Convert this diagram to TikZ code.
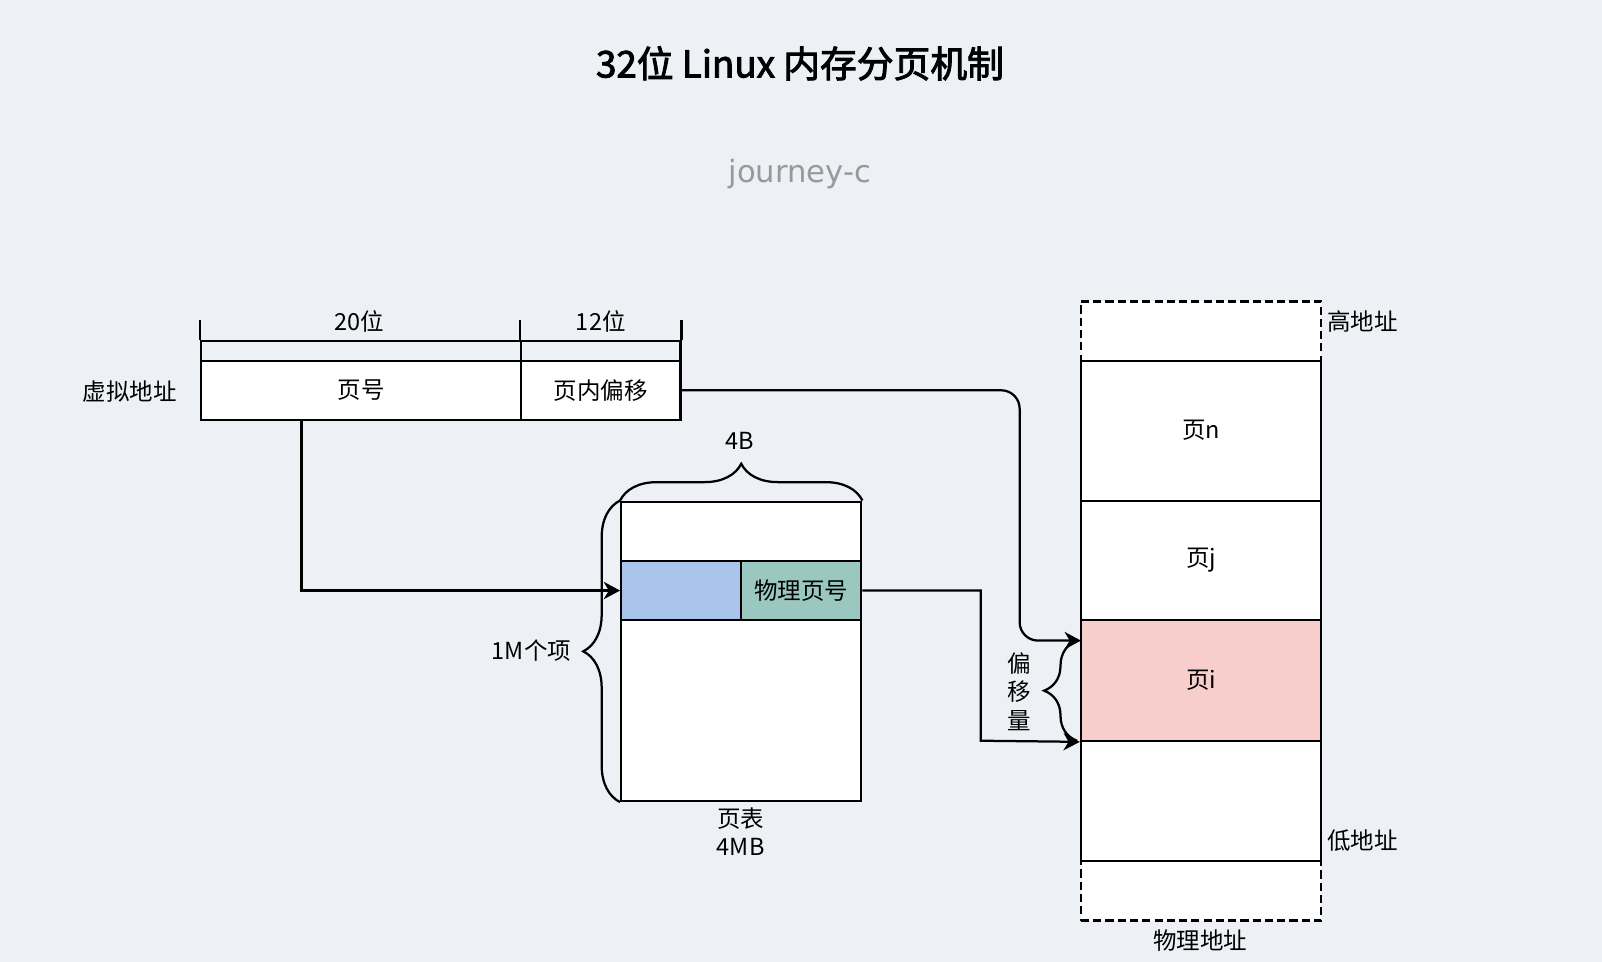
\documentclass[tikz,border=0pt]{standalone}
\usepackage{fontspec}
\usepackage{tikz}
\usetikzlibrary{calc,arrows.meta,decorations.pathreplacing}
\newfontfamily\cjk{Noto Sans CJK SC}
\newfontfamily\titlefont[FakeBold=2.5]{Noto Sans CJK SC}
\newfontfamily\handfont{DejaVu Sans}
\definecolor{bgcol}{RGB}{237,241,245}
\definecolor{idxblue}{RGB}{169,196,235}
\definecolor{pfngreen}{RGB}{154,199,191}
\definecolor{pagepink}{RGB}{248,206,204}
\definecolor{markgray}{RGB}{153,153,153}
\newcommand*{\MemCell}[7][white]{% #2 = name, #3/#4 = top left, #5/#6 = bottom right, #7 = text
\node [cell, fill=#1, minimum width={(#5-#3)*0.5pt}, minimum height={(#6-#4)*0.5pt}]
(#2) at ({(#3+#5)/2},{(#4+#6)/2}) {#7};
}

\begin{document}
\begin{tikzpicture}[x=0.5pt, y=-0.5pt, line width=1.1pt,
    cell/.style={draw, inner sep=0pt, font=\cjk\fontsize{11.5}{14}\selectfont},
    lbl/.style={inner sep=1pt, font=\cjk\fontsize{11.5}{14}\selectfont},
    arr/.style={-{Stealth[length=8pt, width=8.5pt, inset=2.5pt]}},
    brc/.style={decorate, decoration={brace, amplitude=#1}}]

            \fill [bgcol] (0,0) rectangle (1568,941.5);
            \node [font=\titlefont\fontsize{18}{22}\selectfont] (title) at (783,62) {32位 Linux 内存分页机制};
            \node [text=markgray, font=\handfont\fontsize{15}{18}\selectfont] (mark) at (783,170) {journey-c};

            % virtual address
            \MemCell[none]{hdr_a}{197}{334}{510}{353}{}
            \MemCell[none]{hdr_b}{510}{334}{666}{353}{}
            \MemCell{va_num}{197}{353}{510}{411}{页号}
            \MemCell{va_off}{510}{353}{666}{411}{页内偏移}
            \draw (hdr_a.north west) -- ++(0,-20);
            \draw (hdr_b.north west) -- ++(0,-20);
            \draw (hdr_b.north east) -- ++(0,-20);
            \node [lbl] (bits_a) at (352,315) {20位};
            \node [lbl] (bits_b) at (588,315) {12位};
            \node [lbl] (va_lbl) at (127,383) {虚拟地址};

            % page table
            \MemCell{pt_top}{608}{491}{843}{549}{}
            \MemCell[idxblue]{pt_idx}{608}{549}{725}{607}{}
            \MemCell[pfngreen]{pt_pfn}{725}{549}{843}{607}{物理页号}
            \MemCell{pt_rest}{608}{607}{843}{784}{}
            \node [lbl, align=center] (pt_lbl) at (725,814) {页表\\4MB};
            \draw [brc=18pt] (pt_top.north west) -- (pt_top.north east);
            \node [lbl] (entry_lbl) at (724,432) {4B};
            \draw [brc=18pt] (pt_rest.south west) -- (pt_top.north west);
            \node [lbl, anchor=east] (count_lbl) at (562,637) {1M个项};

            % physical memory
            \MemCell[white, dash pattern=on 4pt off 2pt]{pm_frame}{1058}{295}{1293}{901}{}
            \MemCell{pg_n}{1058}{353}{1293}{490}{页n}
            \MemCell{pg_j}{1058}{490}{1293}{607}{页j}
            \MemCell[pagepink]{pg_i}{1058}{607}{1293}{725}{页i}
            \MemCell{pg_low}{1058}{725}{1293}{843}{}
            \node [lbl, anchor=west] (high_lbl) at (1296,315) {高地址};
            \node [lbl, anchor=west] (low_lbl) at (1296,823) {低地址};
            \node [lbl] (pm_lbl) at (1175,921) {物理地址};

            % connectors
            \coordinate (vpn_out) at (295,411);
            \coordinate (off_turn) at (998,627);
            \coordinate (off_in) at (1058,627);
            \coordinate (pfn_turn) at (960,725);
            \draw [arr] (vpn_out) |- (pt_idx.west);
            \draw [arr, rounded corners=9pt] (va_off.east) -| (off_turn) -- (off_in);
            \draw [arr] (pt_pfn.east) -| (pfn_turn) -- (pg_i.south west);
            \draw [brc=16pt] (1054,725) -- (1054,627);
            \node [lbl, align=center] (shift_lbl) at (998,677) {偏\\移\\量};
        \end{tikzpicture}
\end{document}
